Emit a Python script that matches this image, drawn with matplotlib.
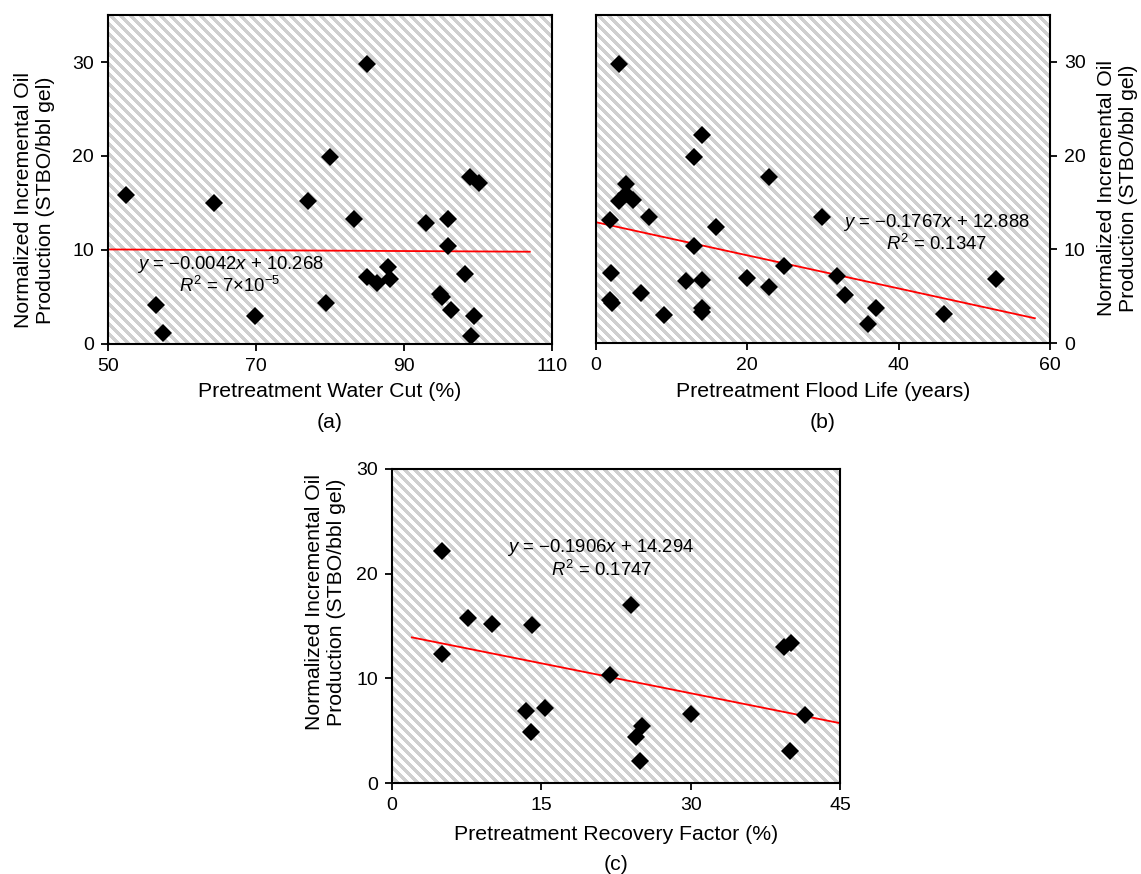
"""
Normalized incremental oil vs pretreatment parameters, three scatter panels
"""
import numpy as np
import matplotlib
matplotlib.use('Agg')
import matplotlib.pyplot as plt
from matplotlib.colors import ListedColormap

plt.rcParams['font.family'] = ['Liberation Sans', 'DejaVu Sans']
plt.rcParams['mathtext.fontset'] = 'custom'
plt.rcParams['mathtext.rm'] = 'Liberation Sans'
plt.rcParams['mathtext.it'] = 'Liberation Sans:italic'

# (a) water cut
wc_x = [52.4, 64.3, 77.0, 85.0, 80.0, 98.9, 100.1, 83.2, 93.0, 95.9, 96.0, 87.9, 85.0,
        86.4, 88.1, 98.2, 94.9, 95.1, 96.3, 99.4, 99.1, 56.5, 57.4, 69.8, 79.5]
wc_y = [15.8, 15.0, 15.25, 29.8, 19.9, 17.8, 17.1, 13.3, 12.9, 13.3, 10.4, 8.2, 7.1,
        6.5, 6.9, 7.4, 5.3, 5.0, 3.6, 3.0, 0.8, 4.2, 1.2, 3.0, 4.4]

# (b) flood life
fl_x = [3.0, 14.0, 13.0, 22.9, 4.0, 3.0, 4.0, 4.9, 1.9, 7.0, 15.9, 29.9, 13.0, 24.9,
        31.9, 52.8, 2.0, 11.9, 14.0, 19.9, 22.9, 6.0, 32.9, 1.9, 2.1, 9.0, 14.0, 14.0,
        37.0, 46.0, 36.0]
fl_y = [29.8, 22.2, 19.9, 17.7, 17.0, 15.1, 15.9, 15.3, 13.1, 13.4, 12.4, 13.4, 10.4,
        8.2, 7.1, 6.8, 7.5, 6.6, 6.7, 6.9, 6.0, 5.3, 5.1, 4.6, 4.3, 3.0, 3.7, 3.3,
        3.7, 3.1, 2.0]

# (c) recovery factor
rf_x = [5.0, 5.0, 7.6, 10.0, 14.1, 24.0, 39.4, 40.1, 21.9, 13.5, 15.4, 14.0, 30.0,
        41.5, 25.1, 24.5, 24.9, 40.0]
rf_y = [22.2, 12.3, 15.8, 15.2, 15.1, 17.0, 13.0, 13.4, 10.35, 6.9, 7.2, 4.9, 6.6,
        6.5, 5.4, 4.4, 2.1, 3.1]

# trend lines: slope, intercept, x range
slopes = [-0.0042, -0.1767, -0.1906]
intercepts = [10.268, 12.888, 14.294]
fit_ranges = [(50, 107), (0, 58), (2, 45)]
eq_texts = [('$y$ = \u22120.0042$x$ + 10.268', '$R^{\\mathrm{2}}$ = 7\u00d710$^{\\mathrm{\u22125}}$'),
            ('$y$ = \u22120.1767$x$ + 12.888', '$R^{\\mathrm{2}}$ = 0.1347'),
            ('$y$ = \u22120.1906$x$ + 14.294', '$R^{\\mathrm{2}}$ = 0.1747')]
eq_pos = [(66.5, 8.5, 6.2), (45.0, 12.9, 10.6), (21.0, 22.5, 20.4)]

xlabels = ['Pretreatment Water Cut (%)', 'Pretreatment Flood Life (years)',
           'Pretreatment Recovery Factor (%)']
ylab = 'Normalized Incremental Oil\nProduction (STBO/bbl gel)'
panel_tags = ['(a)', '(b)', '(c)']

W, H = 1141, 874
fig = plt.figure(figsize=(W / 100, H / 100), dpi=100)

# pixel boxes: left, top, right, bottom
boxes = [(108, 15, 552, 344), (596, 15, 1050, 343), (392, 469, 840, 783)]
axes = []
for l, t, r, b in boxes:
    axes.append(fig.add_axes([l / W, 1 - b / H, (r - l) / W, (b - t) / H]))

data = [(wc_x, wc_y), (fl_x, fl_y), (rf_x, rf_y)]
xlims = [(50, 110), (0, 60), (0, 45)]
ylims = [(0, 35), (0, 35), (0, 30)]
xticks = [[50, 70, 90, 110], [0, 20, 40, 60], [0, 15, 30, 45]]
yticks = [[0, 10, 20, 30], [0, 10, 20, 30], [0, 10, 20, 30]]

stripe_cmap = ListedColormap(['white', '#d0d0d0'])

for i, ax in enumerate(axes):
    # diagonal stripe background, one array cell per pixel
    l, t, r, b = boxes[i]
    jj, ii = np.meshgrid(np.arange(r - l), np.arange(b - t))
    stripes = ((jj - ii) % 10 < 5).astype(float)
    ax.imshow(stripes, extent=[0, 1, 0, 1], transform=ax.transAxes, aspect='auto',
              cmap=stripe_cmap, interpolation='nearest', zorder=0)

    x, y = data[i]
    ax.plot(x, y, 'D', color='black', markersize=9.5, markeredgewidth=0, zorder=3)
    x0, x1 = fit_ranges[i]
    ax.plot([x0, x1], [slopes[i] * x0 + intercepts[i], slopes[i] * x1 + intercepts[i]],
            color='#ff0000', lw=1.3, zorder=2)
    ex, ey1, ey2 = eq_pos[i]
    ax.text(ex, ey1, eq_texts[i][0], ha='center', va='center', fontsize=13.3, zorder=4)
    ax.text(ex, ey2, eq_texts[i][1], ha='center', va='center', fontsize=13.3, zorder=4)
    ax.set_xlim(*xlims[i])
    ax.set_ylim(*ylims[i])
    ax.set_xticks(xticks[i])
    ax.set_yticks(yticks[i])
    ax.tick_params(direction='out', length=5, width=1.3, labelsize=14, pad=5)
    for s in ax.spines.values():
        s.set_linewidth(1.5)
        s.set_zorder(5)

axes[1].yaxis.tick_right()

l, t, r, b = boxes[0]
fig.text(((l + r) / 2) / W, 1 - 391 / H, xlabels[0], ha='center', va='center', fontsize=15.3)
fig.text(((l + r) / 2) / W, 1 - 423 / H, panel_tags[0], ha='center', va='center', fontsize=15.3)
fig.text(35 / W, 1 - 200 / H, ylab, ha='center', va='center', rotation=90, fontsize=15.3)

l, t, r, b = boxes[1]
fig.text(((l + r) / 2) / W, 1 - 391 / H, xlabels[1], ha='center', va='center', fontsize=15.3)
fig.text(((l + r) / 2) / W, 1 - 423 / H, panel_tags[1], ha='center', va='center', fontsize=15.3)
fig.text(1117 / W, 1 - 188 / H, ylab, ha='center', va='center', rotation=90, fontsize=15.3)

l, t, r, b = boxes[2]
fig.text(((l + r) / 2) / W, 1 - 834 / H, xlabels[2], ha='center', va='center', fontsize=15.3)
fig.text(((l + r) / 2) / W, 1 - 865 / H, panel_tags[2], ha='center', va='center', fontsize=15.3)
fig.text(325 / W, 1 - 602 / H, ylab, ha='center', va='center', rotation=90, fontsize=15.3)

fig.savefig('out.png', dpi=100)
